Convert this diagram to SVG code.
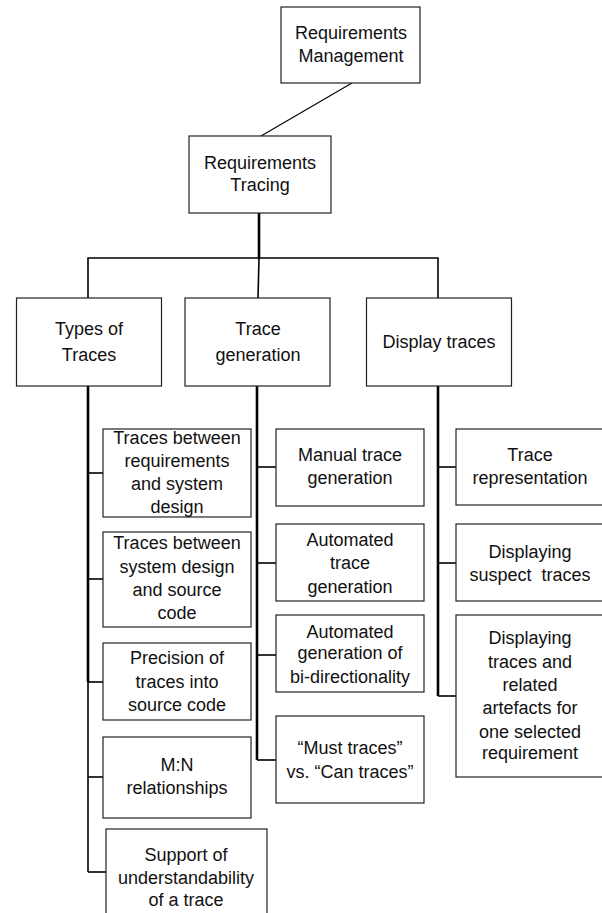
<svg xmlns="http://www.w3.org/2000/svg" width="602" height="913" viewBox="0 0 602 913">
<style>
rect{fill:#fff;stroke:#222;stroke-width:1.2}
text{font-family:"Liberation Sans",Arial,sans-serif;font-size:18px;fill:#111;text-anchor:middle}
.c{stroke:#000;fill:none}
.t{stroke-width:2.6}
.m{stroke-width:1.6}
.n{stroke-width:1.1}
</style>
<rect width="602" height="913" style="fill:#fff;stroke:none"/>
<g id="connectors">
<line class="c n" x1="352" y1="83" x2="261" y2="136"/>
<line class="c t" x1="259" y1="213" x2="259" y2="259"/>
<polyline class="c m" points="88,298 88,258 438,258 438,298"/>
<line class="c m" x1="259" y1="258" x2="258" y2="298"/>
<line class="c t" x1="88" y1="386" x2="88" y2="682"/>
<line class="c m" x1="88" y1="682" x2="88" y2="872"/>
<line class="c m" x1="88" y1="473" x2="103" y2="473"/>
<line class="c m" x1="88" y1="579" x2="103" y2="579"/>
<line class="c m" x1="88" y1="682" x2="103" y2="682"/>
<line class="c m" x1="88" y1="777" x2="103" y2="777"/>
<line class="c m" x1="88" y1="872" x2="106" y2="872"/>
<line class="c t" x1="257" y1="386" x2="257" y2="760"/>
<line class="c m" x1="257" y1="467" x2="276" y2="467"/>
<line class="c m" x1="257" y1="563" x2="276" y2="563"/>
<line class="c m" x1="257" y1="655" x2="276" y2="655"/>
<line class="c m" x1="257" y1="760" x2="276" y2="760"/>
<line class="c t" x1="438" y1="386" x2="438" y2="696"/>
<line class="c m" x1="438" y1="467" x2="456" y2="467"/>
<line class="c m" x1="438" y1="563" x2="456" y2="563"/>
<line class="c m" x1="438" y1="696" x2="456" y2="696"/>
</g>
<g id="req-management"><rect x="281" y="7" width="139" height="76"/><text x="351" y="39">Requirements</text><text x="351" y="62">Management</text></g>
<g id="req-tracing"><rect x="189" y="136" width="142" height="77"/><text x="260" y="169">Requirements</text><text x="260" y="191">Tracing</text></g>
<g id="types-of-traces"><rect x="16.5" y="298" width="145" height="88"/><text x="89" y="335">Types of</text><text x="89" y="361">Traces</text></g>
<g id="trace-generation"><rect x="185" y="298" width="145" height="88"/><text x="258" y="335">Trace</text><text x="258" y="361">generation</text></g>
<g id="display-traces"><rect x="366.5" y="298" width="145" height="88"/><text x="439" y="348">Display traces</text></g>
<g id="t1"><rect x="103" y="429" width="148" height="88"/><text x="177" y="444">Traces between</text><text x="177" y="467">requirements</text><text x="177" y="490">and system</text><text x="177" y="513">design</text></g>
<g id="t2"><rect x="103" y="532" width="148" height="95"/><text x="177" y="549">Traces between</text><text x="177" y="573">system design</text><text x="177" y="596">and source</text><text x="177" y="619">code</text></g>
<g id="t3"><rect x="103" y="643" width="148" height="77"/><text x="177" y="664">Precision of</text><text x="177" y="688">traces into</text><text x="177" y="711">source code</text></g>
<g id="t4"><rect x="103" y="737" width="148" height="81"/><text x="177" y="771">M:N</text><text x="177" y="794">relationships</text></g>
<g id="t5"><rect x="106" y="829" width="161" height="100"/><text x="186" y="861">Support of</text><text x="186" y="884">understandability</text><text x="186" y="906">of a trace</text></g>
<g id="g1"><rect x="276" y="429" width="148" height="77"/><text x="350" y="461">Manual trace</text><text x="350" y="484">generation</text></g>
<g id="g2"><rect x="276" y="524" width="148" height="77"/><text x="350" y="546">Automated</text><text x="350" y="569">trace</text><text x="350" y="593">generation</text></g>
<g id="g3"><rect x="276" y="615" width="148" height="77"/><text x="350" y="638">Automated</text><text x="350" y="659">generation of</text><text x="350" y="683">bi-directionality</text></g>
<g id="g4"><rect x="276" y="716" width="148" height="87"/><text x="350" y="754">“Must traces”</text><text x="350" y="778">vs. “Can traces”</text></g>
<g id="d1"><rect x="456" y="429" width="150" height="76"/><text x="530" y="461">Trace</text><text x="530" y="484">representation</text></g>
<g id="d2"><rect x="456" y="524" width="150" height="77"/><text x="530" y="558">Displaying</text><text x="530" y="581" xml:space="preserve">suspect  traces</text></g>
<g id="d3"><rect x="456" y="615" width="150" height="162"/><text x="530" y="644">Displaying</text><text x="530" y="668">traces and</text><text x="530" y="691">related</text><text x="530" y="714">artefacts for</text><text x="530" y="738">one selected</text><text x="530" y="759">requirement</text></g>
</svg>
